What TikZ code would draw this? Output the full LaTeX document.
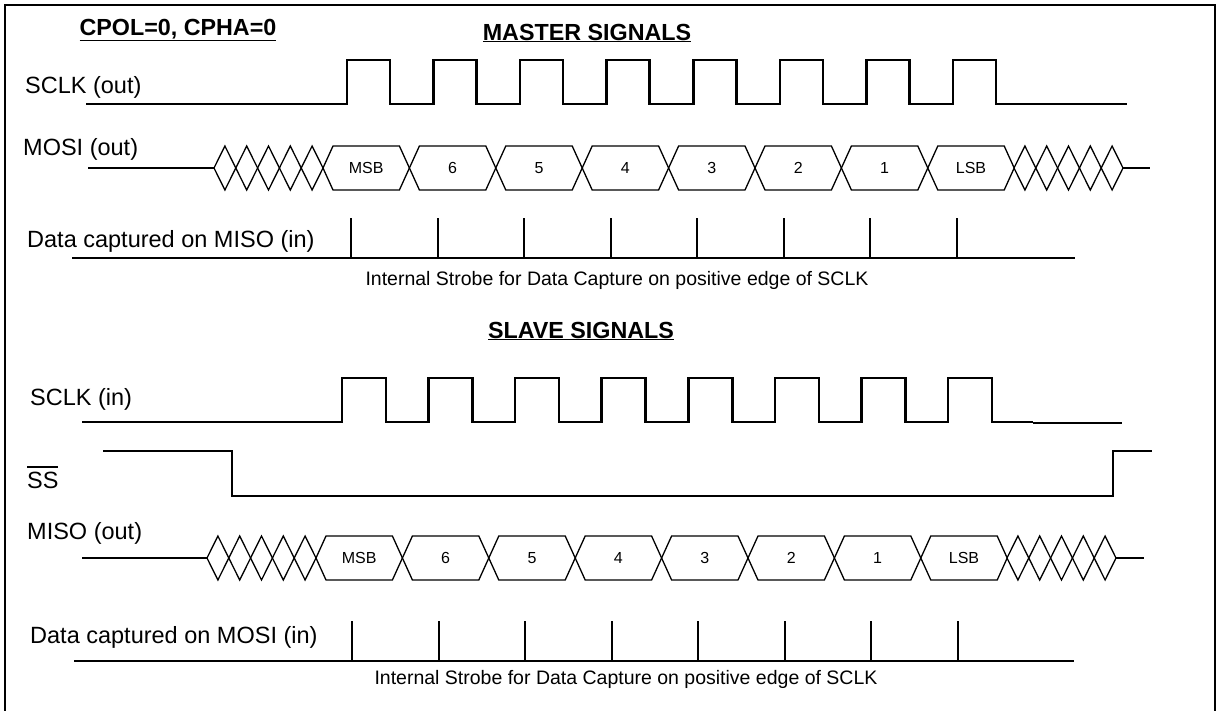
\documentclass[tikz,border=0pt]{standalone}
\usepackage{fontspec}
\setmainfont{Liberation Sans}
\begin{document}
\begin{tikzpicture}[x=1pt,y=-1pt,
  wave/.style={line width=2.6pt, line join=miter},
  bus/.style={line width=1.3pt, line join=miter},
  idle/.style={line width=2pt},
  tick/.style={line width=2pt},
  lbl/.style={anchor=base west, inner sep=0pt, font=\fontsize{23.5}{28}\selectfont},
  hdr/.style={anchor=base, inner sep=0pt, font=\fontsize{23.3}{28}\selectfont\bfseries},
  note/.style={anchor=base, inner sep=0pt, font=\fontsize{19.5}{23}\selectfont},
  bit/.style={inner sep=0pt, font=\fontsize{16}{19}\selectfont}]
\useasboundingbox (0,0) rectangle (1221,710);
% frame (open at the bottom)
\draw[line width=2.5pt] (5,712) -- (5,5) -- (1215,5) -- (1215,712);

% headings
\node[hdr] (cpol) at (178,35) {\underline{CPOL=0, CPHA=0}};
\node[hdr] (mhead) at (587,40) {\underline{MASTER SIGNALS}};
\node[hdr] (shead) at (581,338) {\underline{SLAVE SIGNALS}};

% ---------------- MASTER ----------------
\node[lbl] (msclk) at (25,93) {SCLK (out)};
\draw[wave] (86,104) \foreach \i in {0,...,7} {
  -- ({347+86.57*\i},104) -- ({347+86.57*\i},60) -- ({390+86.57*\i},60) -- ({390+86.57*\i},104) } -- (1127,104);

\node[lbl] (mmosi) at (23,155) {MOSI (out)};
\draw[idle] (88,168) -- (214,168);
\foreach \i in {0,...,4} {
  \draw[bus] ({214+21.8*\i},168) -- ({224.9+21.8*\i},146) -- ({235.8+21.8*\i},168) -- ({224.9+21.8*\i},190) -- cycle;
  \draw[bus] ({1014+21.8*\i},168) -- ({1024.9+21.8*\i},146) -- ({1035.8+21.8*\i},168) -- ({1024.9+21.8*\i},190) -- cycle;
}
\foreach \t [count=\k from 0] in {MSB,6,5,4,3,2,1,LSB} {
  \pgfmathsetmacro{\c}{323+86.4*\k}
  \draw[bus] (\c,168) -- (\c+10,146) -- (\c+76.4,146) -- (\c+86.4,168) -- (\c+76.4,190) -- (\c+10,190) -- cycle;
  \node[bit] (mb\k) at (\c+43.2,168) {\t};
}
\draw[idle] (1123,168) -- (1150,168);

\node[lbl] (mcap) at (27,247) {Data captured on MISO (in)};
\draw[tick] (72,258) -- (1075,258);
\foreach \i in {0,...,7} { \draw[tick] ({351+86.5*\i},218) -- ({351+86.5*\i},258); }
\node[note] (mnote) at (617,285) {Internal Strobe for Data Capture on positive edge of SCLK};

% ---------------- SLAVE ----------------
\node[lbl] (ssclk) at (30,405) {SCLK (in)};
\draw[wave] (82,422) \foreach \i in {0,...,7} {
  -- ({342+86.57*\i},422) -- ({342+86.57*\i},378) -- ({386+86.57*\i},378) -- ({386+86.57*\i},422) } -- (1033,422);
\draw[wave] (1033,423) -- (1122,423);

\node[lbl] (sss) at (27,488) {SS};
\draw[line width=1.6pt] (27,467) -- (58,467);
\draw[wave] (103,451) -- (232,451) -- (232,496) -- (1113,496) -- (1113,451) -- (1152,451);

\node[lbl] (smiso) at (27,539) {MISO (out)};
\draw[idle] (82,558) -- (207,558);
\foreach \i in {0,...,4} {
  \draw[bus] ({207+21.8*\i},558) -- ({217.9+21.8*\i},536) -- ({228.8+21.8*\i},558) -- ({217.9+21.8*\i},580) -- cycle;
  \draw[bus] ({1007+21.8*\i},558) -- ({1017.9+21.8*\i},536) -- ({1028.8+21.8*\i},558) -- ({1017.9+21.8*\i},580) -- cycle;
}
\foreach \t [count=\k from 0] in {MSB,6,5,4,3,2,1,LSB} {
  \pgfmathsetmacro{\c}{316+86.4*\k}
  \draw[bus] (\c,558) -- (\c+10,536) -- (\c+76.4,536) -- (\c+86.4,558) -- (\c+76.4,580) -- (\c+10,580) -- cycle;
  \node[bit] (sb\k) at (\c+43.2,558) {\t};
}
\draw[idle] (1116,558) -- (1144,558);

\node[lbl] (scap) at (30,643) {Data captured on MOSI (in)};
\draw[tick] (74,661) -- (1074,661);
\foreach \i in {0,...,7} { \draw[tick] ({352+86.5*\i},621) -- ({352+86.5*\i},661); }
\node[note] (snote) at (626,684) {Internal Strobe for Data Capture on positive edge of SCLK};
\end{tikzpicture}
\end{document}
